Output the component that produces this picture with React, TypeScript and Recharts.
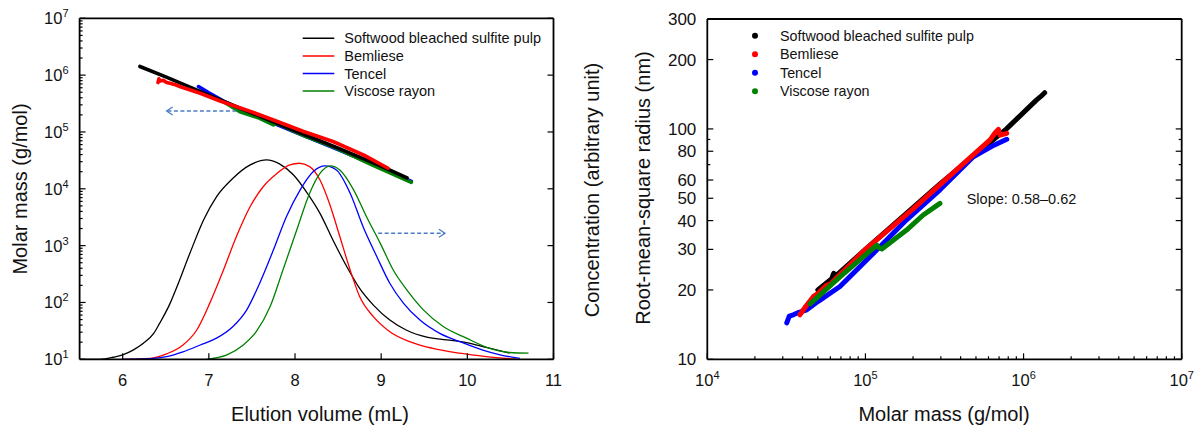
import React from 'react';
import { ComposedChart, Line, XAxis, YAxis, ReferenceLine } from 'recharts';

const FONT = '"Liberation Sans", Arial, Helvetica, sans-serif';
const BLACK = '#000000';
const RED = '#ff0000';
const BLUE = '#0000ff';
const GREEN = '#008000';
const ARROW = '#4a7cc4';

const seriesNames = ['Softwood bleached sulfite pulp', 'Bemliese', 'Tencel', 'Viscose rayon'];
const seriesColors = [BLACK, RED, BLUE, GREEN];

// ---- left panel: molar mass (log) vs elution volume
const swMassVol = [6.2, 6.5, 7.0, 7.5, 8.0, 8.5, 9.0, 9.3];
const swMass = [1.42e6, 9.3e5, 4.45e5, 2.15e5, 1.05e5, 5.2e4, 2.5e4, 1.55e4];
const bmMassVol = [6.41, 6.42, 6.44, 6.47, 6.51, 6.56, 6.62, 6.67, 6.9, 7.13, 7.5, 7.75, 8.1, 8.44, 8.8, 9.08];
const bmMass = [7.4e5, 8.6e5, 7.9e5, 8.1e5, 7.4e5, 7.1e5, 6.7e5, 6.25e5, 4.8e5, 3.5e5, 2.25e5, 1.62e5, 1.02e5, 6.8e4, 3.9e4, 2.3e4];
const tcMassVol = [6.88, 7.0, 7.17, 7.5, 8.0, 8.5, 9.0, 9.35];
const tcMass = [6.3e5, 4.9e5, 3.5e5, 2.05e5, 1.0e5, 4.9e4, 2.35e4, 1.35e4];
const vrMassVol = [7.17, 7.36, 7.59, 7.75, 7.79, 8.1, 8.44, 8.9, 9.35];
const vrMass = [3.4e5, 2.27e5, 1.74e5, 1.33e5, 1.41e5, 8.6e4, 5.5e4, 2.6e4, 1.3e4];

// ---- left panel: concentration traces (arbitrary unit, 0-100)
const swConcVol = [5.5, 5.74, 5.89, 6.0, 6.12, 6.24, 6.36, 6.43, 6.55, 6.63, 6.78, 6.94, 7.09, 7.28, 7.48, 7.67, 7.82, 7.98, 8.13, 8.29, 8.44, 8.6, 8.75, 8.91, 9.1, 9.29, 9.53, 9.76, 9.99, 10.22, 10.49];
const swConc = [0, 0, 0.6, 1.3, 2.7, 4.7, 7.6, 10.6, 16.4, 21.3, 31.1, 40.9, 47.7, 53.1, 57.0, 58.5, 57.3, 54.1, 49.2, 42.8, 35.0, 27.2, 20.8, 15.9, 11.5, 8.6, 6.5, 5.7, 4.9, 3.5, 1.8];
const bmConcVol = [6.0, 6.32, 6.51, 6.7, 6.86, 7.01, 7.17, 7.32, 7.48, 7.63, 7.79, 7.94, 8.05, 8.17, 8.29, 8.4, 8.52, 8.64, 8.75, 8.91, 9.1, 9.33, 9.6, 9.91, 10.22, 10.57];
const bmConc = [0, 0.3, 1.6, 4.2, 8.6, 16.4, 26.2, 36.0, 44.8, 50.6, 54.5, 57.0, 57.5, 56.5, 52.6, 45.7, 36.0, 26.2, 18.4, 12.5, 8.1, 5.2, 3.2, 1.8, 0.8, 0];
const tcConcVol = [6.0, 6.32, 6.51, 6.7, 6.9, 7.09, 7.28, 7.44, 7.59, 7.75, 7.9, 8.06, 8.21, 8.35, 8.48, 8.64, 8.79, 8.95, 9.1, 9.26, 9.45, 9.68, 9.91, 10.18, 10.38, 10.61];
const tcConc = [0, 0.2, 0.8, 2.2, 4.2, 6.2, 9.6, 14.5, 22.3, 32.1, 41.8, 49.7, 55.0, 56.7, 55.5, 48.7, 38.9, 30.1, 22.3, 16.4, 11.5, 7.6, 5.2, 2.7, 1.3, 0.3];
const vrConcVol = [6.97, 7.21, 7.4, 7.55, 7.71, 7.86, 8.02, 8.17, 8.29, 8.41, 8.52, 8.68, 8.83, 8.99, 9.14, 9.3, 9.49, 9.72, 9.99, 10.26, 10.49, 10.71];
const vrConc = [0, 1.3, 4.2, 8.1, 15.4, 26.2, 37.9, 48.7, 54.5, 56.7, 55.5, 49.7, 41.8, 34.0, 26.2, 20.3, 14.5, 9.6, 6.2, 3.2, 2.0, 1.8];

// ---- right panel: rms radius vs molar mass
const swRmsMass = [5.0e4, 6.1e4, 6.3e4, 6.5e4, 1.0e5, 3.0e5, 7.8e5, 1.2e6, 1.28e6, 1.36e6];
const swRms = [20.0, 22.3, 23.6, 23.0, 30.0, 58.2, 100, 133, 138, 143.6];
const bmRmsMass = [3.85e4, 4.2e4, 4.68e4, 5.0e4, 5.69e4, 6.0e4, 1.0e5, 2.0e5, 4.0e5, 6.14e5, 6.6e5, 6.93e5, 7.1e5, 7.83e5];
const bmRms = [15.6, 17.0, 18.7, 19.3, 21.0, 21.2, 30.0, 45.0, 69.0, 89.6, 96.0, 99.5, 94.0, 95.7];
const tcRmsMass = [3.18e4, 3.3e4, 3.5e4, 3.8e4, 4.26e4, 5.0e4, 6.9e4, 1.12e5, 1.82e5, 2.96e5, 4.81e5, 6.5e5, 7.83e5];
const tcRms = [14.4, 15.4, 15.6, 16.0, 16.4, 17.8, 20.7, 28.8, 40.3, 54.4, 75.7, 85.0, 90.2];
const vrRmsMass = [4.47e4, 6.9e4, 1.18e5, 1.22e5, 1.27e5, 1.82e5, 2.32e5, 2.96e5];
const vrRms = [17.4, 22.8, 31.3, 30.5, 30.1, 36.4, 42.3, 47.5];

// ---- ticks
const volTicks = [6, 7, 8, 9, 10, 11];
const massDecades = [1e1, 1e2, 1e3, 1e4, 1e5, 1e6, 1e7];
const minorSteps = [2, 3, 4, 5, 6, 7, 8, 9];
const massTicks = massDecades.flatMap((d, i) => (i < massDecades.length - 1 ? [d, ...minorSteps.map((k) => d * k)] : [d]));
const mmDecades = [1e4, 1e5, 1e6, 1e7];
const mmTicks = mmDecades.flatMap((d, i) => (i < mmDecades.length - 1 ? [d, ...minorSteps.map((k) => d * k)] : [d]));
const rmsTicks = [10, 20, 30, 40, 50, 60, 70, 80, 90, 100, 200, 300];
const rmsLabels = [10, 20, 30, 40, 50, 60, 80, 100, 200, 300];

// annotation arrows (data coords)
const leftArrow = { from: 7.32, to: 6.51, mass: 2.34e5 };
const rightArrow = { from: 8.965, to: 9.74, mass: 1.65e3 };

const pts = (xs: number[], ys: number[], xk: string, yk: string) =>
  xs.map((x, i) => ({ [xk]: x, [yk]: ys[i] }));

const isDecade = (v: number) => Math.abs(Math.log10(v) - Math.round(Math.log10(v))) < 1e-6;

const Pow = ({ v }: { v: number }) => (
  <>
    10<tspan dy={-7} fontSize={11}>{Math.round(Math.log10(v))}</tspan>
  </>
);

type Side = 'bottom' | 'top' | 'left' | 'right';
// ticks point inwards; the label (if any) sits outside the frame
const makeTick =
  (side: Side, isMajor: (v: number) => boolean, label?: (v: number) => React.ReactNode, fontSize = 16.5) =>
  (props: any) => {
    const { x, y, payload } = props;
    const v = payload.value;
    const len = isMajor(v) ? 6 : 3;
    let line;
    if (side === 'bottom') line = <line x1={x} y1={y} x2={x} y2={y - len} />;
    else if (side === 'top') line = <line x1={x} y1={y} x2={x} y2={y + len} />;
    else if (side === 'left') line = <line x1={x} y1={y} x2={x + len} y2={y} />;
    else line = <line x1={x} y1={y} x2={x - len} y2={y} />;
    const content = label ? label(v) : null;
    return (
      <g stroke={BLACK} strokeWidth={1.2}>
        {line}
        {content !== null && side === 'bottom' && (
          <text x={x} y={y + 27} textAnchor="middle" fontSize={fontSize} fontFamily={FONT} fill="#111" stroke="none">
            {content}
          </text>
        )}
        {content !== null && side === 'left' && (
          <text x={x - 11} y={y + 6} textAnchor="end" fontSize={fontSize} fontFamily={FONT} fill="#111" stroke="none">
            {content}
          </text>
        )}
      </g>
    );
  };

const Arrow = (p: any) => {
  const { x1, y1, x2, y2 } = p;
  const dir = x2 > x1 ? 1 : -1;
  return (
    <g stroke={ARROW} strokeWidth={1.3} fill="none">
      <line x1={x1} y1={y1} x2={x2} y2={y2} strokeDasharray="4 2.5" />
      <polyline points={`${x2 - dir * 6},${y2 - 4} ${x2},${y2} ${x2 - dir * 6},${y2 + 4}`} />
    </g>
  );
};

const axisLine = { stroke: BLACK, strokeWidth: 1.8 };
// axes need a non-zero size to be drawn; 1px is taken from the margins
const frameAxis = { interval: 0 as const, tickSize: 0, tickMargin: 0, tickLine: false, axisLine, allowDataOverflow: true };

function LeftPanel() {
  const massSeries = [
    pts(tcMassVol, tcMass, 'v', 'm'),
    pts(vrMassVol, vrMass, 'v', 'm'),
    pts(swMassVol, swMass, 'v', 'm'),
    pts(bmMassVol, bmMass, 'v', 'm'),
  ];
  const massColors = [BLUE, GREEN, BLACK, RED];
  const concSeries = [
    pts(swConcVol, swConc, 'v', 'c'),
    pts(bmConcVol, bmConc, 'v', 'c'),
    pts(tcConcVol, tcConc, 'v', 'c'),
    pts(vrConcVol, vrConc, 'v', 'c'),
  ];
  return (
    <ComposedChart width={600} height={426} margin={{ top: 17.3, right: 45.5, bottom: 65.7, left: 78.6 }}>
      <XAxis
        xAxisId="b"
        dataKey="v"
        type="number"
        domain={[5.5, 11]}
        ticks={volTicks}
        height={1}
        {...frameAxis}
        tick={makeTick('bottom', () => true, (v) => String(v))}
      />
      <XAxis
        xAxisId="t"
        orientation="top"
        type="number"
        domain={[5.5, 11]}
        ticks={volTicks}
        height={1}
        {...frameAxis}
        tick={makeTick('top', () => true)}
      />
      <YAxis
        yAxisId="m"
        type="number"
        scale="log"
        domain={[10, 1e7]}
        ticks={massTicks}
        width={1}
        {...frameAxis}
        tick={makeTick('left', isDecade, (v) => (isDecade(v) ? <Pow v={v} /> : null))}
      />
      <YAxis
        yAxisId="mr"
        orientation="right"
        type="number"
        scale="log"
        domain={[10, 1e7]}
        ticks={massDecades}
        width={1}
        {...frameAxis}
        tick={makeTick('right', () => true)}
      />
      <YAxis yAxisId="zc" orientation="right" type="number" domain={[0, 100]} width={0} hide allowDataOverflow />
      {concSeries.map((d, i) => (
        <Line
          key={'c' + i}
          data={d}
          xAxisId="b"
          yAxisId="zc"
          dataKey="c"
          type="monotone"
          stroke={seriesColors[i]}
          strokeWidth={1.3}
          dot={false}
          activeDot={false}
          isAnimationActive={false}
        />
      ))}
      {massSeries.map((d, i) => (
        <Line
          key={'m' + i}
          data={d}
          xAxisId="b"
          yAxisId="m"
          dataKey="m"
          type="linear"
          stroke={massColors[i]}
          strokeWidth={3.6}
          strokeLinecap="round"
          strokeLinejoin="round"
          dot={false}
          activeDot={false}
          isAnimationActive={false}
        />
      ))}
      <ReferenceLine
        xAxisId="b"
        yAxisId="m"
        segment={[{ x: leftArrow.from, y: leftArrow.mass }, { x: leftArrow.to, y: leftArrow.mass }]}
        shape={Arrow}
      />
      <ReferenceLine
        xAxisId="b"
        yAxisId="m"
        segment={[{ x: rightArrow.from, y: rightArrow.mass }, { x: rightArrow.to, y: rightArrow.mass }]}
        shape={Arrow}
      />
    </ComposedChart>
  );
}

function RightPanel() {
  const rmsSeries = [
    pts(swRmsMass, swRms, 'm', 'r'),
    pts(tcRmsMass, tcRms, 'm', 'r'),
    pts(bmRmsMass, bmRms, 'm', 'r'),
    pts(vrRmsMass, vrRms, 'm', 'r'),
  ];
  const rmsColors = [BLACK, BLUE, RED, GREEN];
  return (
    <ComposedChart width={597} height={426} margin={{ top: 18, right: 14.3, bottom: 65.7, left: 106.3 }}>
      <XAxis
        xAxisId="b"
        dataKey="m"
        type="number"
        scale="log"
        domain={[1e4, 1e7]}
        ticks={mmTicks}
        height={1}
        {...frameAxis}
        tick={makeTick('bottom', isDecade, (v) => (isDecade(v) ? <Pow v={v} /> : null))}
      />
      <XAxis
        xAxisId="t"
        orientation="top"
        type="number"
        scale="log"
        domain={[1e4, 1e7]}
        ticks={mmTicks}
        height={1}
        {...frameAxis}
        tick={makeTick('top', isDecade)}
      />
      <YAxis
        yAxisId="r"
        type="number"
        scale="log"
        domain={[10, 300]}
        ticks={rmsTicks}
        width={1}
        {...frameAxis}
        tick={makeTick('left', (v) => rmsLabels.includes(v), (v) => (rmsLabels.includes(v) ? String(v) : null), 17)}
      />
      <YAxis
        yAxisId="rr"
        orientation="right"
        type="number"
        scale="log"
        domain={[10, 300]}
        ticks={rmsTicks}
        width={1}
        {...frameAxis}
        tick={makeTick('right', (v) => rmsLabels.includes(v))}
      />
      {rmsSeries.map((d, i) => (
        <Line
          key={'r' + i}
          data={d}
          xAxisId="b"
          yAxisId="r"
          dataKey="r"
          type="linear"
          stroke={rmsColors[i]}
          strokeWidth={5}
          strokeLinecap="round"
          strokeLinejoin="round"
          dot={false}
          activeDot={false}
          isAnimationActive={false}
        />
      ))}
    </ComposedChart>
  );
}

function Overlay() {
  const t = { fontFamily: FONT, fill: '#111' };
  return (
    <svg width={1197} height={426} style={{ position: 'absolute', left: 0, top: 0, pointerEvents: 'none' }}>
      <text {...t} fontSize={20} textAnchor="middle" transform="translate(27,189) rotate(-90)">
        Molar mass (g/mol)
      </text>
      <text {...t} fontSize={20} textAnchor="middle" x={320} y={421}>
        Elution volume (mL)
      </text>
      <text {...t} fontSize={20} textAnchor="middle" transform="translate(599,190) rotate(-90)">
        Concentration (arbitrary unit)
      </text>
      <text {...t} fontSize={20} textAnchor="middle" transform="translate(650,188) rotate(-90)">
        Root-mean-square radius (nm)
      </text>
      <text {...t} fontSize={20} textAnchor="middle" x={944} y={421}>
        Molar mass (g/mol)
      </text>
      <text {...t} fontSize={14.5} x={966.7} y={204}>
        Slope: 0.58–0.62
      </text>
      {seriesNames.map((n, i) => (
        <g key={'l' + i}>
          <line x1={302.7} x2={334.3} y1={38.3 + i * 17.6} y2={38.3 + i * 17.6} stroke={seriesColors[i]} strokeWidth={1.5} />
          <text {...t} fontSize={14.5} x={344.3} y={38.3 + i * 17.6 + 5}>
            {n}
          </text>
        </g>
      ))}
      {seriesNames.map((n, i) => (
        <g key={'r' + i}>
          <circle cx={755} cy={35.7 + i * 18.5} r={3} fill={seriesColors[i]} />
          <text {...t} fontSize={14.3} x={780} y={35.7 + i * 18.5 + 5}>
            {n}
          </text>
        </g>
      ))}
    </svg>
  );
}

export default function App() {
  return (
    <div style={{ position: 'absolute', left: 0, top: 0, width: 1197, height: 426, background: '#fff', overflow: 'hidden' }}>
      <div style={{ position: 'absolute', left: 0, top: 0 }}>
        <LeftPanel />
      </div>
      <div style={{ position: 'absolute', left: 600, top: 0 }}>
        <RightPanel />
      </div>
      <Overlay />
    </div>
  );
}
